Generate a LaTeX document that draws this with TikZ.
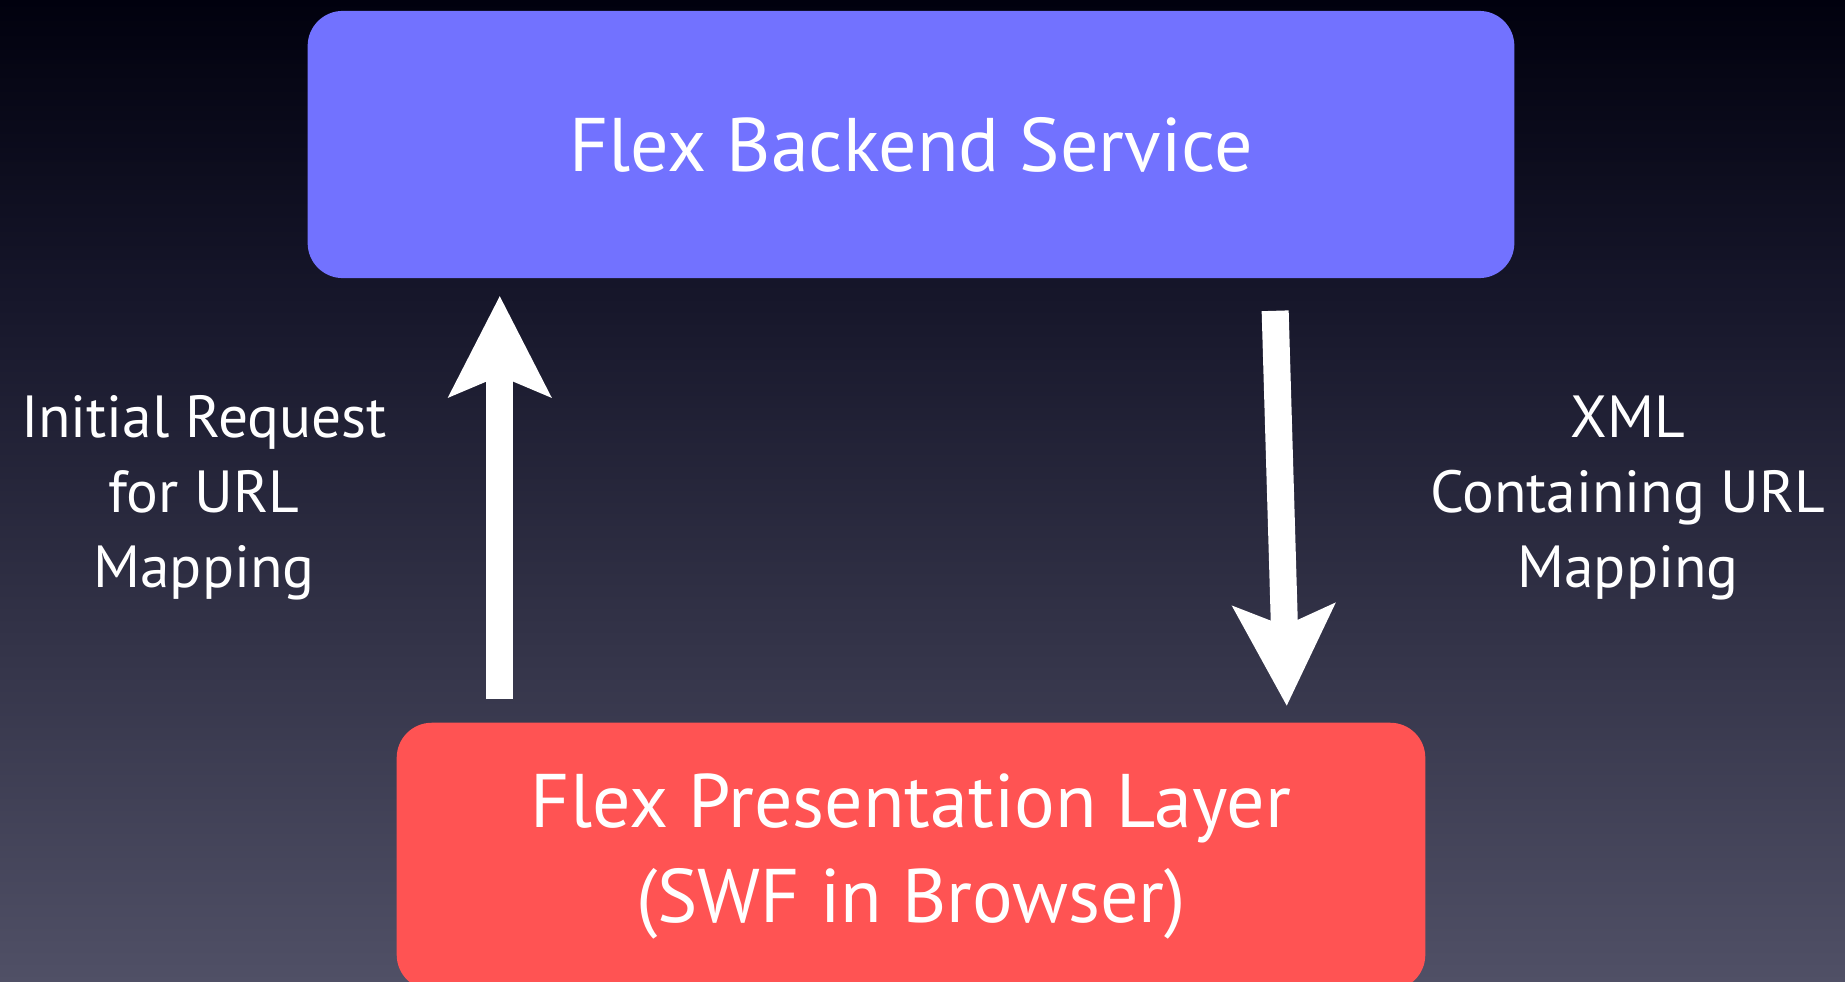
\documentclass[tikz,border=0pt]{standalone}
\usepackage{fontspec}
\setmainfont{PT Sans}
\usepackage{tikz}
\usetikzlibrary{positioning, arrows.meta}

\definecolor{bgtop}{RGB}{1,1,14}
\definecolor{bgmid}{RGB}{22,22,42}
\definecolor{bgbot}{RGB}{80,80,102}
\definecolor{svcblue}{RGB}{114,114,255}
\definecolor{presred}{RGB}{255,83,83}
% the path is fitted to the middle part 25bp..75bp of the shading
\pgfdeclareverticalshading{slidebg}{100bp}{color(0bp)=(bgbot); color(25bp)=(bgbot); color(60bp)=(bgmid); color(75bp)=(bgtop); color(100bp)=(bgtop)}

\tikzset{
    tier/.style={ % the two boxes
        rounded corners=0.35cm,
        minimum width=12.06cm,
        minimum height=2.67cm,
        text=white,
        align=center,
        font=\fontsize{21.6}{27}\selectfont
    },
    note/.style={ % texts beside the arrows
        text=white,
        align=center,
        font=\fontsize{16.9}{21.3}\selectfont
    },
    flow/.style={ % big white arrows
        draw=white,
        line width=0.27cm,
        -{Stealth[length=1cm,width=1.0cm,inset=0.2cm]}
    }
}

\begin{document}
\begin{tikzpicture}[x=0.01cm, y=-0.01cm]
    \useasboundingbox (0,0) rectangle (1845,982);
    \shade[shading=slidebg] (0,0) rectangle (1845,982);

    % boxes
    \node[tier, fill=svcblue]                       (svc)  at (911,144.5) {Flex Backend Service};
    \node[tier, fill=presred, minimum width=10.28cm,
          below=4.43cm of svc]                      (pres) {Flex Presentation Layer\\(SWF in Browser)};

    % labels
    \node[note] (req)  at (204,498) {Initial Request\\for URL\\Mapping};
    \node[note] (resp) at (1628,498) {XML\\Containing URL\\Mapping};

    % arrows
    \draw[flow, shorten <=0.23cm, shorten >=0.17cm]
            ([xshift=-4.11cm]pres.north) -- ([xshift=-4.11cm]svc.south);
    \draw[flow, shorten <=0.32cm, shorten >=0.16cm]
            ([xshift=3.63cm]svc.south) -- ([xshift=3.76cm]pres.north);
\end{tikzpicture}
\end{document}
